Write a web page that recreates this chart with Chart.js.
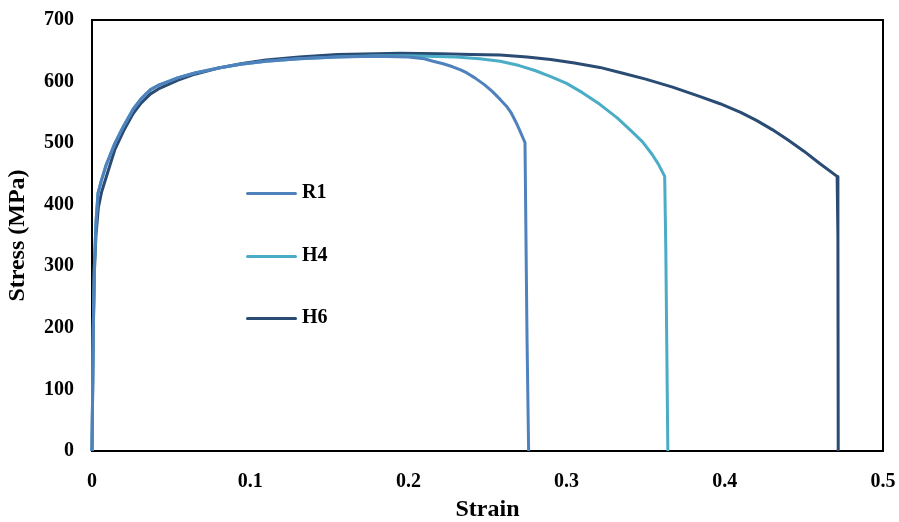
<!DOCTYPE html>
<html>
<head>
<meta charset="utf-8">
<script src="https://cdn.jsdelivr.net/npm/chart.js@4"></script>
<style>
  html, body { margin: 0; padding: 0; background: #fff; }
  #wrap { position: relative; width: 899px; height: 522px; }
  .leg { position: absolute; font-family: "Liberation Serif", "Times New Roman", serif;
         font-weight: bold; font-size: 20px; color: #000; }
  .leg span.ln { position: absolute; left: 0; width: 51px; height: 3px; border-radius: 2px; }
  .leg span.tx { position: absolute; left: 56px; top: -12px; white-space: nowrap; }
</style>
</head>
<body>
<div id="wrap">
  <canvas id="chart" width="899" height="522"></canvas>
  <div class="leg" style="left:246px; top:192px;"><span class="ln" style="background:#4F81BD"></span><span class="tx">R1</span></div>
  <div class="leg" style="left:246px; top:255px;"><span class="ln" style="background:#4BACC6"></span><span class="tx">H4</span></div>
  <div class="leg" style="left:246px; top:317px;"><span class="ln" style="background:#2A4B73"></span><span class="tx">H6</span></div>
</div>
<script>
// Series labels and colours
const seriesNames = ["R1", "H4", "H6"];
const seriesColors = ["#4F81BD", "#4BACC6", "#2A4B73"];

// R1
const r1Strain = [0, 0.0008, 0.0015, 0.0025, 0.0038, 0.006, 0.009, 0.0145, 0.02, 0.026, 0.031, 0.037, 0.042, 0.048, 0.054, 0.065, 0.08, 0.094, 0.11, 0.131, 0.155, 0.18, 0.2, 0.21, 0.2156, 0.222, 0.228, 0.233, 0.237, 0.242, 0.248, 0.253, 0.258, 0.262, 0.265, 0.268, 0.2705, 0.2725, 0.2737, 0.2745, 0.275, 0.276];
const r1Stress = [0, 200, 300, 370, 419, 440, 465, 500, 528, 555, 572, 587, 594, 600, 606, 614, 622, 628, 633, 637, 640, 641, 640, 637, 633, 629, 624, 619, 614, 606, 595, 584, 571, 560, 549, 534, 520, 508, 501, 300, 180, 0];

// H4
const h4Strain = [0, 0.0008, 0.0015, 0.0025, 0.0038, 0.006, 0.009, 0.0145, 0.02, 0.026, 0.031, 0.037, 0.042, 0.048, 0.054, 0.065, 0.08, 0.094, 0.11, 0.131, 0.155, 0.18, 0.2, 0.23, 0.245, 0.258, 0.27, 0.28, 0.29, 0.3, 0.31, 0.321, 0.332, 0.342, 0.348, 0.354, 0.358, 0.362, 0.3627, 0.364];
const h4Stress = [0, 200, 300, 370, 419, 440, 465, 500, 528, 555, 572, 587, 594, 600, 606, 614, 622, 628, 633, 637, 640, 642, 642, 640, 637, 633, 626, 618, 608, 597, 582, 563, 541, 517, 502, 482, 466, 446, 330, 0];

// H6
const h6Strain = [0, 0.0008, 0.0015, 0.0025, 0.004, 0.006, 0.009, 0.0145, 0.02, 0.026, 0.031, 0.037, 0.042, 0.048, 0.054, 0.065, 0.08, 0.094, 0.11, 0.131, 0.155, 0.18, 0.195, 0.22, 0.24, 0.258, 0.275, 0.29, 0.305, 0.321, 0.335, 0.35, 0.367, 0.384, 0.397, 0.41, 0.42, 0.43, 0.44, 0.45, 0.46, 0.471, 0.4715, 0.4717];
const h6Stress = [0, 190, 290, 350, 395, 420, 445, 490, 520, 548, 565, 580, 588, 595, 602, 612, 622, 629, 635, 640, 644, 645, 646, 645, 644, 643, 640, 636, 630, 623, 614, 604, 591, 576, 564, 550, 537, 522, 505, 487, 467, 446, 350, 0];

// Axis ticks
const xTicks = [0, 0.1, 0.2, 0.3, 0.4, 0.5];
const yTicks = [0, 100, 200, 300, 400, 500, 600, 700];

function toPoints(xs, ys) {
  return xs.map((x, i) => ({ x: x, y: ys[i] }));
}

const allStrain = [r1Strain, h4Strain, h6Strain];
const allStress = [r1Stress, h4Stress, h6Stress];

const datasets = seriesNames.map((name, i) => ({
  label: name,
  data: toPoints(allStrain[i], allStress[i]),
  borderColor: seriesColors[i],
  backgroundColor: seriesColors[i],
  borderWidth: 3,
  borderJoinStyle: "round",
  pointRadius: 0,
  showLine: true,
  tension: 0,
  clip: 4,
}));

// Frame round the plot area
const frame = {
  id: "frame",
  beforeDatasetsDraw(chart) {
    const a = chart.chartArea;
    const ctx = chart.ctx;
    ctx.save();
    ctx.strokeStyle = "#000";
    ctx.lineWidth = 2;
    ctx.strokeRect(a.left, a.top, a.right - a.left, a.bottom - a.top);
    ctx.restore();
  },
};

const tickFont = { family: "'Liberation Serif', 'Times New Roman', serif", weight: "bold", size: 20 };
const titleFont = { family: "'Liberation Serif', 'Times New Roman', serif", weight: "bold", size: 24, lineHeight: 1 };

new Chart(document.getElementById("chart").getContext("2d"), {
  type: "scatter",
  data: { datasets },
  options: {
    responsive: false,
    animation: false,
    events: [],
    layout: { padding: { top: 20, right: 16, left: 0, bottom: 0 } },
    plugins: { legend: { display: false }, tooltip: { enabled: false } },
    scales: {
      x: {
        type: "linear",
        min: 0,
        max: 0.5,
        afterBuildTicks: (s) => { s.ticks = xTicks.map((v) => ({ value: v })); },
        afterFit: (s) => { s.height = 71; s.paddingLeft = 0; s.paddingRight = 0; },
        grid: { display: false, drawTicks: false },
        border: { display: false },
        ticks: { color: "#000", font: tickFont, padding: 19, maxRotation: 0 },
        title: { display: true, text: "Strain", color: "#000", font: titleFont, padding: { top: 0, bottom: 0 } },
      },
      y: {
        type: "linear",
        min: 0,
        max: 700,
        afterBuildTicks: (s) => { s.ticks = yTicks.map((v) => ({ value: v })); },
        afterFit: (s) => { s.width = 92; s.paddingTop = 0; s.paddingBottom = 0; },
        grid: { display: false, drawTicks: false },
        border: { display: false },
        ticks: { color: "#000", font: tickFont, padding: 18 },
        title: { display: true, text: "Stress (MPa)", color: "#000", font: titleFont, padding: { top: 6, bottom: 0 } },
      },
    },
  },
  plugins: [frame],
});
</script>
</body>
</html>
